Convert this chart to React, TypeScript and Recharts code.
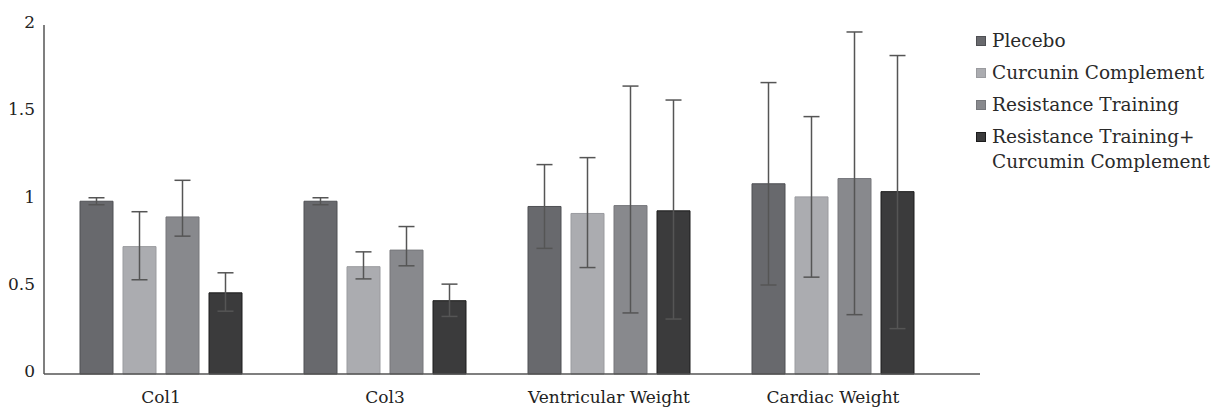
import React from "react";
import {
  BarChart,
  Bar,
  XAxis,
  YAxis,
  ErrorBar,
  Legend,
} from "recharts";

const categories = ["Col1", "Col3", "Ventricular Weight", "Cardiac Weight"];

const plecebo = [0.99, 0.99, 0.96, 1.09];
const plecebeErr = [[0.02, 0.02], [0.02, 0.02], [0.24, 0.24], [0.58, 0.58]];

const curcumin = [0.73, 0.615, 0.92, 1.015];
const curcuminErr = [[0.19, 0.2], [0.07, 0.085], [0.31, 0.32], [0.46, 0.46]];

const training = [0.9, 0.71, 0.965, 1.12];
const trainingErr = [[0.11, 0.21], [0.09, 0.135], [0.615, 0.685], [0.78, 0.84]];

const combined = [0.465, 0.42, 0.935, 1.045];
const combinedErr = [[0.105, 0.115], [0.09, 0.095], [0.62, 0.635], [0.785, 0.78]];

const yTicks = [0, 0.5, 1, 1.5, 2];

const series = [
  { key: "plecebo", name: "Plecebo", fill: "#68696d", stroke: "#4f5054" },
  { key: "curcumin", name: "Curcunin Complement", fill: "#abacb0", stroke: "#9a9b9f" },
  { key: "training", name: "Resistance Training", fill: "#88898d", stroke: "#76777b" },
  { key: "combined", name: "Resistance Training+\nCurcumin Complement", fill: "#3b3b3c", stroke: "#1c1c1c" },
];

const data = categories.map((name, i) => ({
  name,
  plecebo: plecebo[i],
  plecebeErr: plecebeErr[i],
  curcumin: curcumin[i],
  curcuminErr: curcuminErr[i],
  training: training[i],
  trainingErr: trainingErr[i],
  combined: combined[i],
  combinedErr: combinedErr[i],
}));

const errKeys: Record<string, string> = {
  plecebo: "plecebeErr",
  curcumin: "curcuminErr",
  training: "trainingErr",
  combined: "combinedErr",
};

const FONT = "'DejaVu Serif', serif";

function ChartLegend() {
  return (
    <div style={{ fontFamily: FONT, fontSize: 18.5, color: "#2a2a2a" }}>
      {series.map((s) => {
        const lines = s.name.split("\n");
        return (
          <div key={s.key} style={{ display: "flex", alignItems: "flex-start", marginBottom: 7 }}>
            <span
              style={{
                display: "inline-block",
                width: 8,
                height: 8,
                background: s.fill,
                border: `1px solid ${s.stroke}`,
                marginTop: 8,
                marginRight: 6,
                flexShrink: 0,
              }}
            />
            <div style={{ lineHeight: "25px" }}>
              {lines.map((l) => (
                <div key={l}>{l}</div>
              ))}
            </div>
          </div>
        );
      })}
    </div>
  );
}

export default function App() {
  return (
    <div style={{ position: "absolute", left: 0, top: 0, background: "#fff" }}>
      <BarChart
        width={1215}
        height={410}
        data={data}
        margin={{ top: 25, right: 235, left: 0, bottom: 6 }}
        barGap={10}
        barCategoryGap={31}
      >
        <XAxis
          dataKey="name"
          padding={{ left: 5, right: 35 }}
          axisLine={{ stroke: "#555", strokeWidth: 1.5 }}
          tickLine={false}
          tickMargin={11}
          height={30}
          tick={{ fill: "#222", fontSize: 17, fontFamily: FONT }}
        />
        <YAxis
          domain={[0, 2]}
          ticks={yTicks}
          width={44}
          axisLine={{ stroke: "#555", strokeWidth: 1.5 }}
          tickLine={false}
          tickMargin={3}
          tick={{ fill: "#222", fontSize: 17, fontFamily: FONT, dy: -3 }}
        />
        <Legend
          layout="vertical"
          align="center"
          verticalAlign="middle"
          wrapperStyle={{ left: 976, top: 28, width: 239 }}
          content={<ChartLegend />}
        />
        {series.map((s) => (
          <Bar
            key={s.key}
            dataKey={s.key}
            name={s.name}
            fill={s.fill}
            stroke={s.stroke}
            strokeWidth={1}
            isAnimationActive={false}
          >
            <ErrorBar
              dataKey={errKeys[s.key]}
              width={8}
              stroke="#555"
              strokeWidth={1.5}
              direction="y"
            />
          </Bar>
        ))}
      </BarChart>
    </div>
  );
}
